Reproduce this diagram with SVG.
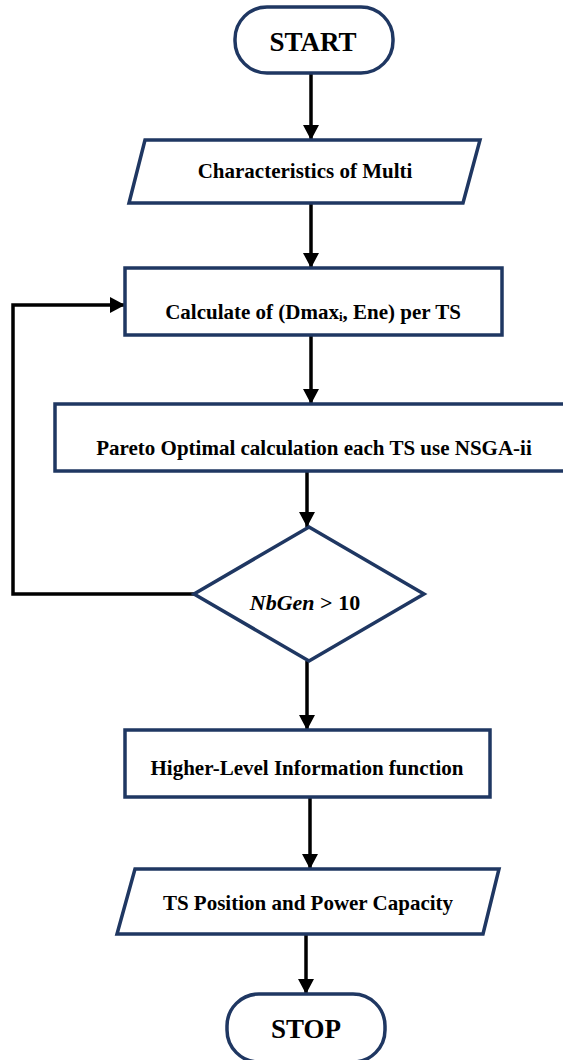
<svg xmlns="http://www.w3.org/2000/svg" width="563" height="1060" viewBox="0 0 563 1060">
<style>
.n{fill:#fff;stroke:#1f3762;stroke-width:3.5}
.c{fill:none;stroke:#000;stroke-width:3.5}
.t{font-family:"Liberation Serif","Times New Roman",serif;font-weight:bold;fill:#000;text-anchor:middle;font-size:21px}
.big{font-size:27px}
</style>
<defs>
<marker id="ah" markerUnits="userSpaceOnUse" markerWidth="16" markerHeight="16" refX="15" refY="8" orient="auto">
<path d="M0,0 L15,8 L0,16 z" fill="#000"/>
</marker>
</defs>
<rect width="563" height="1060" fill="#fff"/>
<g id="connectors">
<line class="c" x1="311" y1="73" x2="311" y2="140" marker-end="url(#ah)"/>
<line class="c" x1="311" y1="203" x2="311" y2="268" marker-end="url(#ah)"/>
<line class="c" x1="311" y1="335" x2="311" y2="404" marker-end="url(#ah)"/>
<line class="c" x1="307" y1="471" x2="307" y2="527" marker-end="url(#ah)"/>
<polyline class="c" points="194,594 13,594 13,305 125,305" marker-end="url(#ah)"/>
<line class="c" x1="307" y1="661" x2="307" y2="730" marker-end="url(#ah)"/>
<line class="c" x1="310" y1="797" x2="310" y2="869" marker-end="url(#ah)"/>
<line class="c" x1="306" y1="934" x2="306" y2="994" marker-end="url(#ah)"/>
</g>
<g id="start">
<rect class="n" x="235" y="7" width="158" height="66" rx="32" ry="32"/>
<text class="t big" x="313" y="51">START</text>
</g>
<g id="characteristics">
<polygon class="n" points="145,140 480,140 463,203 129,203"/>
<text class="t" x="305" y="178">Characteristics of Multi</text>
</g>
<g id="calculate">
<rect class="n" x="125" y="268" width="377" height="67"/>
<text class="t" x="313" y="319">Calculate of (Dmax<tspan font-size="13" dy="2">i</tspan><tspan dy="-2">, Ene) per TS</tspan></text>
</g>
<g id="pareto">
<rect class="n" x="55" y="404" width="530" height="67"/>
<text class="t" x="314" y="455">Pareto Optimal calculation each TS use NSGA-ii</text>
</g>
<g id="decision">
<polygon class="n" points="309,527 424,594 309,661 194,594"/>
<text class="t" x="305" y="610" style="font-size:22px"><tspan font-style="italic">NbGen</tspan> &gt; 10</text>
</g>
<g id="higher">
<rect class="n" x="125" y="730" width="365" height="67"/>
<text class="t" x="307" y="775">Higher-Level Information function</text>
</g>
<g id="output">
<polygon class="n" points="135,869 499,869 483,934 117,934"/>
<text class="t" x="308" y="910">TS Position and Power Capacity</text>
</g>
<g id="stop">
<rect class="n" x="227" y="994" width="158" height="68" rx="32" ry="32"/>
<text class="t big" x="306" y="1038">STOP</text>
</g>
</svg>
